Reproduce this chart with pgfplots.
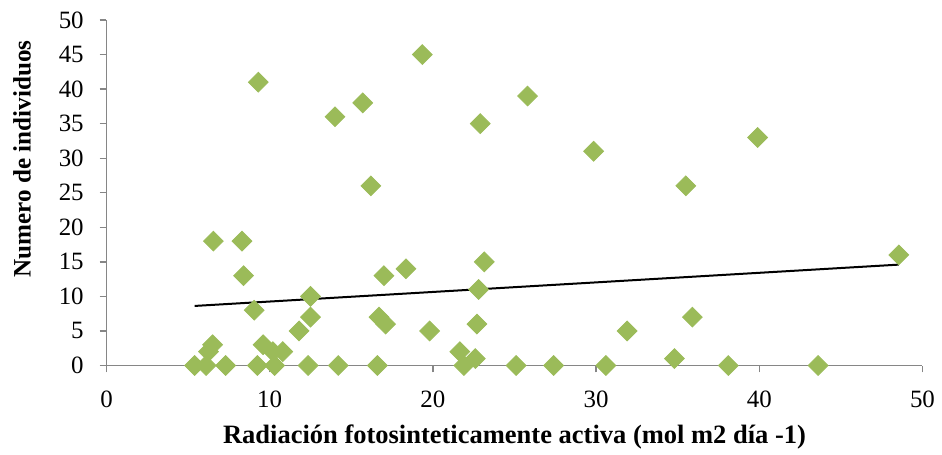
\documentclass[border=0pt]{standalone}
\usepackage{pgfplots}
\pgfplotsset{compat=1.18}
\usepackage{fontspec}
\setmainfont{Liberation Serif}
\definecolor{axisgray}{HTML}{868686}
\definecolor{markgreen}{HTML}{9BBB59}
\begin{document}
\begin{tikzpicture}
\begin{axis}[
  at={(0,0)}, anchor=south west,
  scale only axis,
  width=408bp, height=172.75bp,
  xmin=0, xmax=50, ymin=0, ymax=50,
  xtick={0,10,...,50}, ytick={0,5,...,50},
  axis x line=bottom, axis y line=left,
  axis line style={-, draw=axisgray, line width=0.7bp},
  tick style={draw=axisgray, line width=0.7bp},
  tick align=outside, major tick length=3.4bp,
  /pgf/number format/assume math mode=true,
  ticklabel style={font=\fontsize{12.5}{14}\selectfont, text=black},
  yticklabel style={xshift=-4.5bp},
  xticklabel style={yshift=-6bp},
  xlabel={\textbf{Radiación fotosinteticamente activa (mol m2 día -1)}},
  ylabel={\textbf{Numero de individuos}},
  xlabel style={font=\fontsize{13.3}{15}\selectfont, at={(axis description cs:0.5,-0.207)}, anchor=center},
  ylabel style={font=\fontsize{12.6}{14}\selectfont, at={(axis description cs:-0.1036,0.5977)}, anchor=center, rotate=0},
  clip=false,
]
% observations
\addplot[only marks, mark=square*, mark size=3.5bp,
  mark options={rotate=45, fill=markgreen, draw=markgreen}]
coordinates {
(9.3,41) (14.0,36) (15.7,38) (19.35,45) (22.9,35) (16.2,26)
(25.8,39) (29.85,31) (35.5,26) (39.9,33)
(6.55,18) (8.3,18) (8.4,13) (9.05,8) (12.5,10) (12.5,7) (11.8,5)
(17.0,13) (18.35,14) (16.7,7) (17.1,6) (19.8,5)
(23.15,15) (22.8,11) (22.7,6) (21.65,2) (22.6,1) (21.9,0) (25.1,0)
(6.5,3) (6.25,2) (5.4,0) (6.1,0) (7.3,0) (9.25,0)
(9.6,3) (10.2,2) (10.8,2) (10.3,0) (12.35,0) (14.2,0) (16.6,0)
(48.55,16) (35.9,7) (31.9,5) (34.8,1) (27.4,0) (30.6,0) (38.1,0) (43.6,0)
};
% linear trend
\addplot[black, line width=1bp] coordinates {(5.4,8.62) (48.55,14.6)};
\end{axis}
\pgfresetboundingbox
\path (-53.25bp,-44.75bp) rectangle (417.75bp,182.75bp);
\end{tikzpicture}
\end{document}
